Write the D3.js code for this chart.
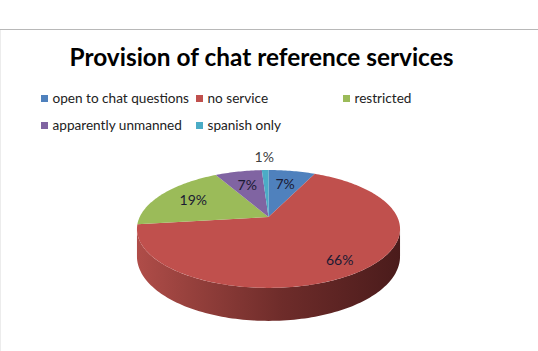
<!DOCTYPE html>
<html>
<head>
<meta charset="utf-8">
<script src="https://cdn.jsdelivr.net/npm/d3@7"></script>
<style>
  body { margin: 0; background: #fff; }
  svg { display: block; }
</style>
</head>
<body>
<svg id="chart"></svg>
<script>
// Data
const CATEGORIES = ["open to chat questions", "no service", "restricted", "apparently unmanned", "spanish only"];
const VALUES = [7, 66, 19, 7, 1];
const LABELS = ["7%", "66%", "19%", "7%", "1%"];
const COLORS = ["#4f81bd", "#c0504d", "#9bbb59", "#8064a2", "#4bacc6"];
const TITLE = "Provision of chat reference services";

const WIDTH = 538, HEIGHT = 351;

// pie "3d" setup: circle seen in perspective
const CX = 268.5, CY = 217;
const RX = 128.8, RY = 56.5;   // scale of the projected disc
const K = 0.203;               // perspective strength
const DEPTH = 26.3;            // thickness of the side

const svg = d3.select("#chart")
  .attr("width", WIDTH)
  .attr("height", HEIGHT);

// frame lines
svg.append("line")
  .attr("x1", 0).attr("x2", WIDTH).attr("y1", 29.5).attr("y2", 29.5)
  .attr("stroke", "#b8b8b8").attr("stroke-width", 1);
svg.append("line")
  .attr("x1", 0.5).attr("x2", 0.5).attr("y1", 30).attr("y2", HEIGHT)
  .attr("stroke", "#ececec").attr("stroke-width", 1);

// title
svg.append("text")
  .attr("x", 261.5).attr("y", 66)
  .attr("text-anchor", "middle")
  .style("font-family", "Lato, 'Open Sans', sans-serif")
  .style("font-weight", "bold")
  .style("font-size", "24.4px")
  .attr("fill", "#000")
  .text(TITLE);

// legend
const LEGEND_COLS = [41, 196, 343];
const legend = svg.append("g").attr("class", "legend");
const legendItems = legend.selectAll("g.item")
  .data(CATEGORIES)
  .join("g")
    .attr("class", "item")
    .attr("transform", (d, i) => {
      const row = i < 3 ? 0 : 1;
      const col = i < 3 ? i : i - 3;
      return `translate(${LEGEND_COLS[col]}, ${98.5 + row * 27})`;
    });
legendItems.append("rect")
  .attr("x", 0).attr("y", -3.5)
  .attr("width", 7).attr("height", 7)
  .attr("fill", (d, i) => COLORS[i]);
legendItems.append("text")
  .attr("x", 11.5).attr("y", 0)
  .attr("dy", "0.35em")
  .style("font-family", "Lato, 'Open Sans', sans-serif")
  .style("font-size", "13.6px")
  .attr("fill", "#222")
  .text(d => d);

// projection of a point on the disc (angle clockwise from 12 o'clock, r in 0..1)
const proj = (phi, r, drop = 0) => {
  const u = Math.sin(phi) * r;
  const v = -Math.cos(phi) * r;
  const w = 1 - K * v;
  return [CX + RX * u / w, CY + (RY * v + drop) / w];
};

const pie = d3.pie().sort(null).value(d => d);
const arcs = pie(VALUES);

const line = d3.line();

// side wall gradient
const defs = svg.append("defs");
const grad = defs.append("linearGradient")
  .attr("id", "side-grad")
  .attr("gradientUnits", "userSpaceOnUse")
  .attr("x1", CX - RX * 1.03).attr("x2", CX + RX * 1.03)
  .attr("y1", 0).attr("y2", 0);
grad.append("stop").attr("offset", "0%").attr("stop-color", "#b04d49");
grad.append("stop").attr("offset", "20%").attr("stop-color", "#97413d");
grad.append("stop").attr("offset", "55%").attr("stop-color", "#6e2c2a");
grad.append("stop").attr("offset", "100%").attr("stop-color", "#4a1b1b");

// side wall (front part only)
const phiR = Math.acos(-K);
const phiL = 2 * Math.PI - phiR;
const steps = d3.range(0, 121).map(i => phiR + (phiL - phiR) * i / 120);
const sidePts = steps.map(p => proj(p, 1))
  .concat(steps.slice().reverse().map(p => proj(p, 1, DEPTH)));

svg.append("path")
  .attr("class", "side")
  .attr("d", line(sidePts) + "Z")
  .attr("fill", "url(#side-grad)");

// top face slices
const slicePath = (a) => {
  const n = Math.max(4, Math.ceil((a.endAngle - a.startAngle) / 0.02));
  const pts = [proj(0, 0)];
  for (let i = 0; i <= n; i++) {
    pts.push(proj(a.startAngle + (a.endAngle - a.startAngle) * i / n, 1));
  }
  return line(pts) + "Z";
};

svg.append("g").attr("class", "slices")
  .selectAll("path.slice")
  .data(arcs)
  .join("path")
    .attr("class", "slice")
    .attr("d", slicePath)
    .attr("fill", (d, i) => COLORS[i]);

// data labels (small slices outside, the rest inside, bigger slices further out)
svg.append("g").attr("class", "labels")
  .selectAll("text")
  .data(arcs)
  .join("text")
    .attr("transform", (d) => {
      const mid = (d.startAngle + d.endAngle) / 2;
      const r = d.data < 3 ? 1.35 : 0.65 + d.data / 100 * 0.25;
      const [x, y] = proj(mid, r);
      return `translate(${x}, ${y})`;
    })
    .attr("text-anchor", "middle")
    .attr("dy", "0.35em")
    .style("font-family", "Lato, 'Open Sans', sans-serif")
    .style("font-size", "14px")
    .attr("fill", (d) => d.data < 3 ? "#404040" : "#1a1a33")
    .text((d, i) => LABELS[i]);
</script>
</body>
</html>
